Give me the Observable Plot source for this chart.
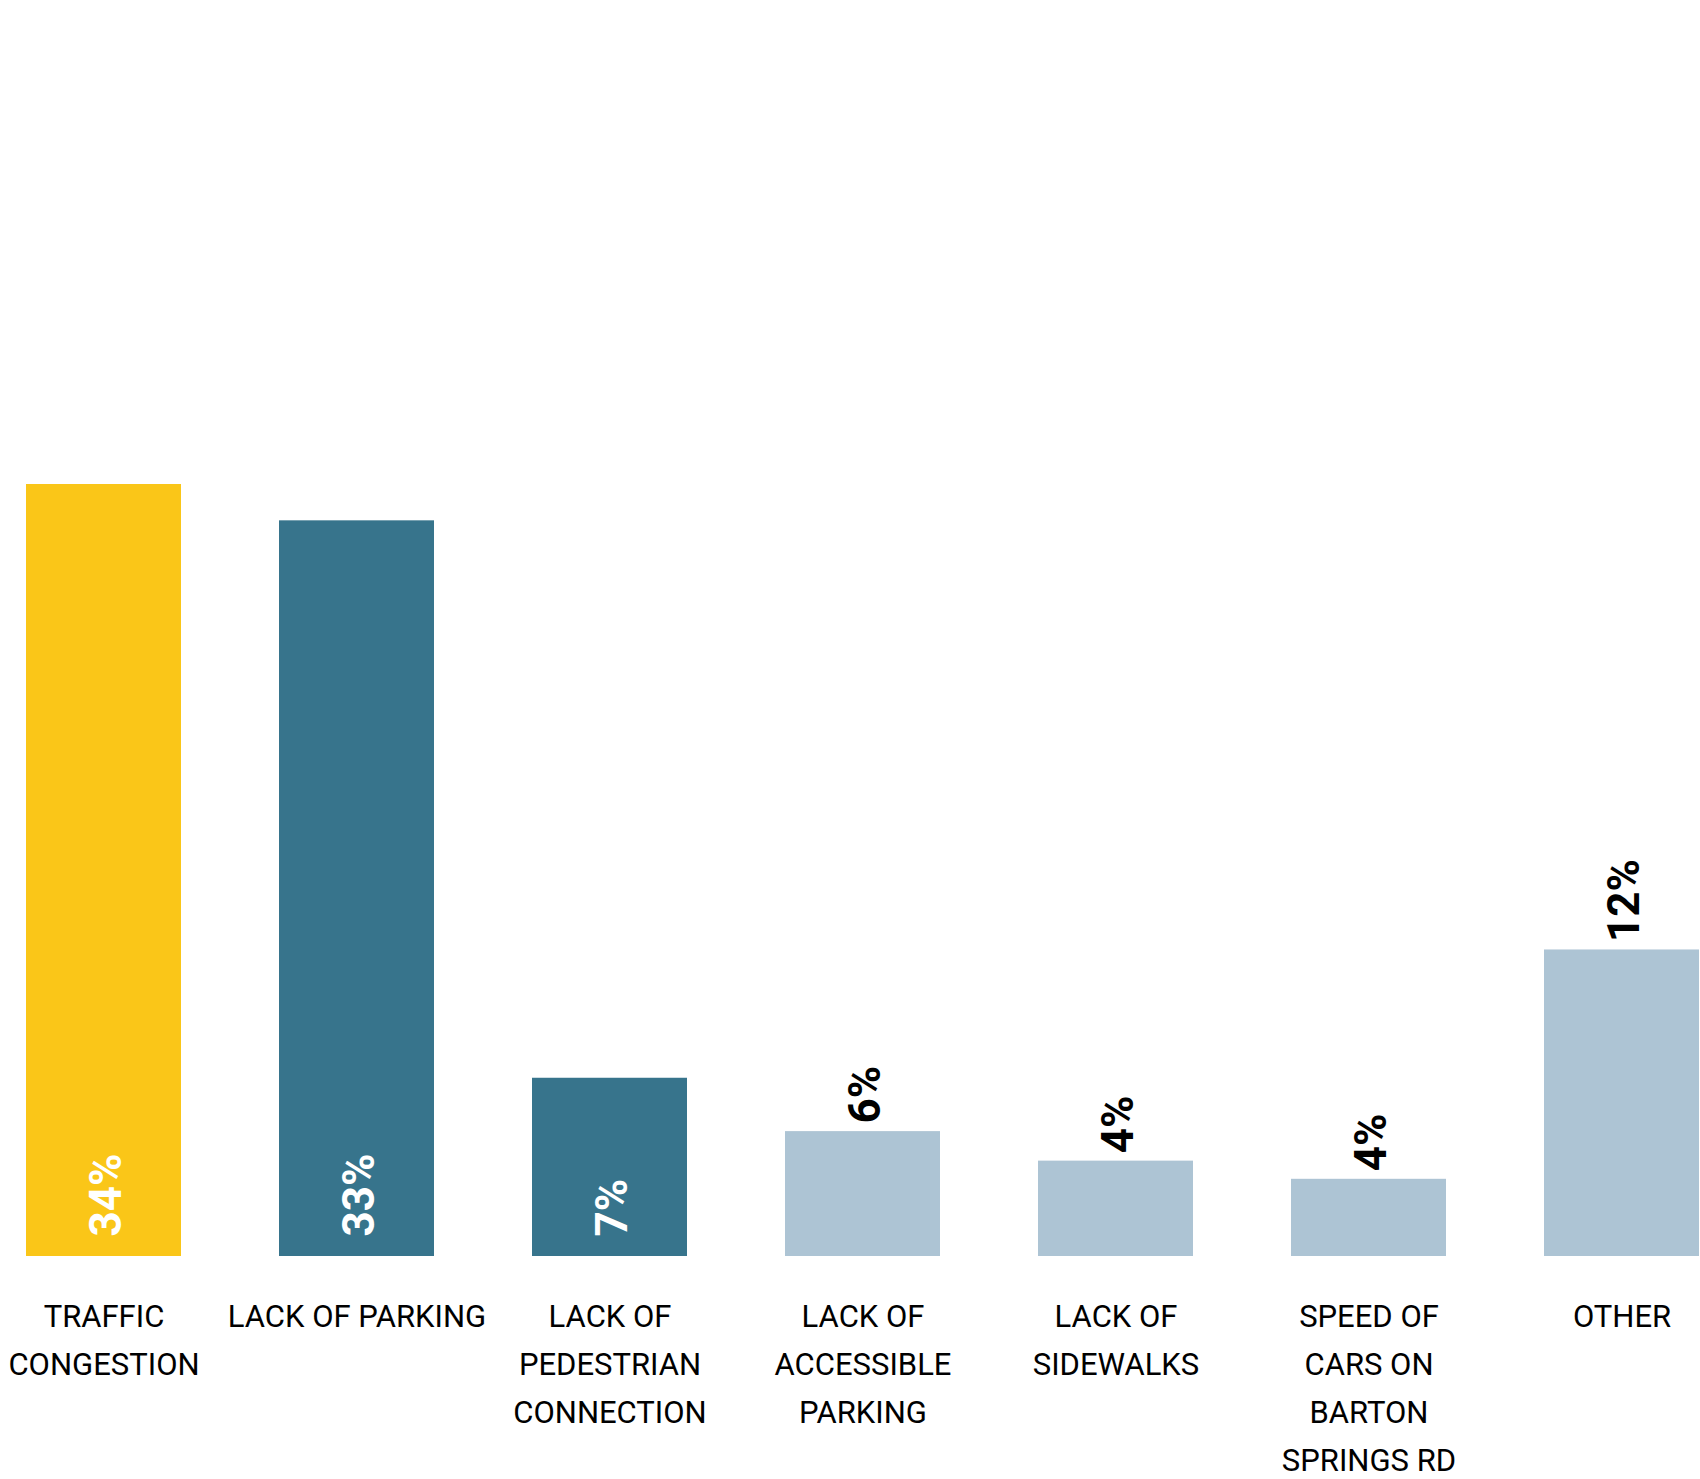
<!DOCTYPE html>
<html>
<head>
<meta charset="utf-8">
<script src="https://cdn.jsdelivr.net/npm/d3@7"></script>
<script src="https://cdn.jsdelivr.net/npm/@observablehq/plot@0.6"></script>
<style>
  html, body { margin: 0; padding: 0; background: #fff; }
  #chart svg { display: block; }
</style>
</head>
<body>
<div id="chart"></div>
<script>
const categories = ["traffic", "parking", "pedestrian", "accessible", "sidewalks", "speed", "other"];
const tickLabels = [
  "TRAFFIC\nCONGESTION",
  "LACK OF PARKING",
  "LACK OF\nPEDESTRIAN\nCONNECTION",
  "LACK OF\nACCESSIBLE\nPARKING",
  "LACK OF\nSIDEWALKS",
  "SPEED OF\nCARS ON\nBARTON\nSPRINGS RD",
  "OTHER"
];
const values = [34, 32.4, 7.85, 5.5, 4.2, 3.4, 13.5];
const valueLabels = ["34%", "33%", "7%", "6%", "4%", "4%", "12%"];
const groups = ["top", "dark", "dark", "light", "light", "light", "light"];
const labelInside = [true, true, true, false, false, false, false];

const data = categories.map((c, i) => ({
  category: c,
  value: values[i],
  label: valueLabels[i],
  group: groups[i],
  inside: labelInside[i]
}));

const chart = Plot.plot({
  width: 1700,
  height: 1479,
  marginTop: 484,
  marginBottom: 223,
  marginLeft: 26,
  marginRight: 0,
  style: { fontFamily: "Roboto, 'Open Sans', sans-serif", background: "#fff" },
  x: { domain: categories, paddingInner: 0.386, paddingOuter: 0, label: null },
  y: { domain: [0, d3.max(values)], axis: null },
  color: { domain: ["top", "dark", "light"], range: ["#FAC618", "#37748C", "#ADC4D4"] },
  marks: [
    Plot.barY(data, { x: "category", y: "value", fill: "group" }),
    Plot.text(data.filter(d => d.inside), {
      x: "category", y: 0, text: "label", rotate: -90, textAnchor: "start",
      dy: -20, dx: 3, fill: "#fff", fontSize: 44, fontWeight: 700
    }),
    Plot.text(data.filter(d => !d.inside), {
      x: "category", y: "value", text: "label", rotate: -90, textAnchor: "start",
      dy: -8, dx: 3, fill: "#000", fontSize: 44, fontWeight: 700
    }),
    Plot.axisX({
      tickSize: 0, tickPadding: 37, fontSize: 31, lineHeight: 1.54,
      tickFormat: (d) => tickLabels[categories.indexOf(d)],
      fill: "#000", label: null
    })
  ]
});
document.getElementById("chart").appendChild(chart);
</script>
</body>
</html>
